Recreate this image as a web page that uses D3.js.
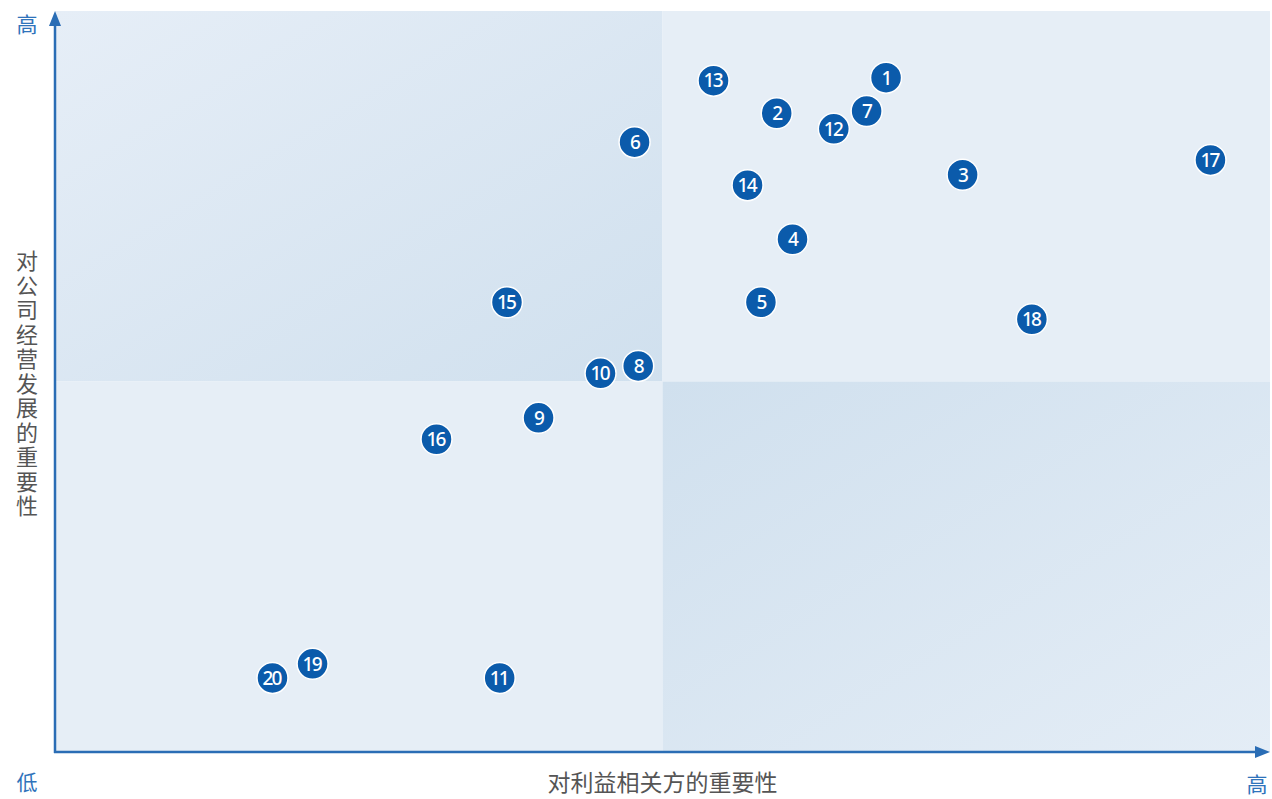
<!DOCTYPE html>
<meta charset="utf-8">
<style>
body { margin: 0; background: #fff; }
.pt circle { fill: #0b5bab; stroke: #fff; stroke-width: 1.5px; }
.pt text { fill: #fff; font: 500 19px "Noto Sans", sans-serif; letter-spacing: -1.8px; }
.title { fill: #555; font: 23px "Noto Sans CJK SC", sans-serif; }
.vtitle { fill: #555; font: 22px "Noto Sans CJK SC", sans-serif; writing-mode: vertical-rl; letter-spacing: 2.5px; }
.lvl { fill: #2f73bb; font: 21px "Noto Sans CJK SC", sans-serif; }
</style>
<body>
<script src="https://d3js.org/d3.v7.min.js"></script>
<script>

// issue ids and their scores (x: stakeholders, y: company)
var ids = [1, 2, 3, 4, 5, 6, 7, 8, 9, 10, 11, 12, 13, 14, 15, 16, 17, 18, 19, 20];
var xVals = [6.84, 5.94, 7.47, 6.07, 5.81, 4.77, 6.68, 4.80, 3.98, 4.49, 3.66, 6.41, 5.42, 5.70, 3.72, 3.14, 9.51, 8.04, 2.12, 1.79];
var yVals = [9.10, 8.62, 7.79, 6.92, 6.07, 8.23, 8.65, 5.21, 4.51, 5.11, 1.00, 8.41, 9.06, 7.65, 6.07, 4.22, 7.99, 5.84, 1.19, 1.00];
var xTitle = "对利益相关方的重要性";
var yTitle = "对公司经营发展的重要性";

var width = 1272, height = 799;

var x = d3.scaleLinear().domain([0, 10]).range([55, 1270]);
var y = d3.scaleLinear().domain([0, 10]).range([752, 11]);

var svg = d3.select("body").append("svg")
    .attr("width", width)
    .attr("height", height);

var defs = svg.append("defs");
var g1 = defs.append("linearGradient").attr("id", "gTL")
    .attr("x1", 0).attr("y1", 0).attr("x2", 1).attr("y2", 1);
g1.append("stop").attr("offset", 0).attr("stop-color", "#e6eef7");
g1.append("stop").attr("offset", 1).attr("stop-color", "#d0e0ee");
var g2 = defs.append("linearGradient").attr("id", "gBR")
    .attr("x1", 0).attr("y1", 0).attr("x2", 1).attr("y2", 1);
g2.append("stop").attr("offset", 0).attr("stop-color", "#d0e0ee");
g2.append("stop").attr("offset", 1).attr("stop-color", "#e4edf6");

// quadrants
var quads = [
  {x0: 0, x1: 5, y0: 5, y1: 10, fill: "url(#gTL)"},
  {x0: 5, x1: 10, y0: 5, y1: 10, fill: "#e6eef6"},
  {x0: 0, x1: 5, y0: 0, y1: 5, fill: "#e6eef6"},
  {x0: 5, x1: 10, y0: 0, y1: 5, fill: "url(#gBR)"}
];
svg.selectAll(".quad")
    .data(quads)
  .enter().append("rect")
    .attr("class", "quad")
    .attr("x", d => x(d.x0))
    .attr("y", d => y(d.y1))
    .attr("width", d => x(d.x1) - x(d.x0))
    .attr("height", d => y(d.y0) - y(d.y1))
    .attr("fill", d => d.fill);

// axes with arrow heads
var axisColor = "#2a6db5";
svg.append("line")
    .attr("x1", x(0)).attr("y1", y(0) + 1)
    .attr("x2", x(0)).attr("y2", y(10) + 8)
    .attr("stroke", axisColor).attr("stroke-width", 2.5);
svg.append("line")
    .attr("x1", x(0) - 1).attr("y1", y(0))
    .attr("x2", x(10) - 8).attr("y2", y(0))
    .attr("stroke", axisColor).attr("stroke-width", 2.5);
svg.append("path")
    .attr("d", `M${x(0)},${y(10)} L${x(0) - 6},${y(10) + 15} L${x(0) + 6},${y(10) + 15} Z`)
    .attr("fill", axisColor);
svg.append("path")
    .attr("d", `M${x(10)},${y(0)} L${x(10) - 15},${y(0) - 6} L${x(10) - 15},${y(0) + 6} Z`)
    .attr("fill", axisColor);

// level labels
svg.append("text").attr("class", "lvl")
    .attr("x", 27).attr("y", 32).attr("text-anchor", "middle").text("高");
svg.append("text").attr("class", "lvl")
    .attr("x", 27).attr("y", 790).attr("text-anchor", "middle").text("低");
svg.append("text").attr("class", "lvl")
    .attr("x", 1257).attr("y", 792).attr("text-anchor", "middle").text("高");

// axis titles
svg.append("text").attr("class", "title")
    .attr("x", x(5)).attr("y", 791)
    .attr("text-anchor", "middle")
    .text(xTitle);

svg.append("text")
    .attr("class", "vtitle")
    .attr("x", 27)
    .attr("y", 250)
    .text(yTitle);

// points
var pts = svg.append("g").selectAll(".pt")
    .data(ids.map((id, i) => ({id: id, x: xVals[i], y: yVals[i]})))
  .enter().append("g")
    .attr("class", "pt")
    .attr("transform", d => `translate(${x(d.x)},${y(d.y)})`);

pts.append("circle").attr("r", 15.5);
pts.append("text")
    .attr("text-anchor", "middle")
    .attr("dy", "0.36em")
    .attr("dx", d => d.id >= 10 ? -0.9 : 0)
    .text(d => d.id);

</script>
</body>
